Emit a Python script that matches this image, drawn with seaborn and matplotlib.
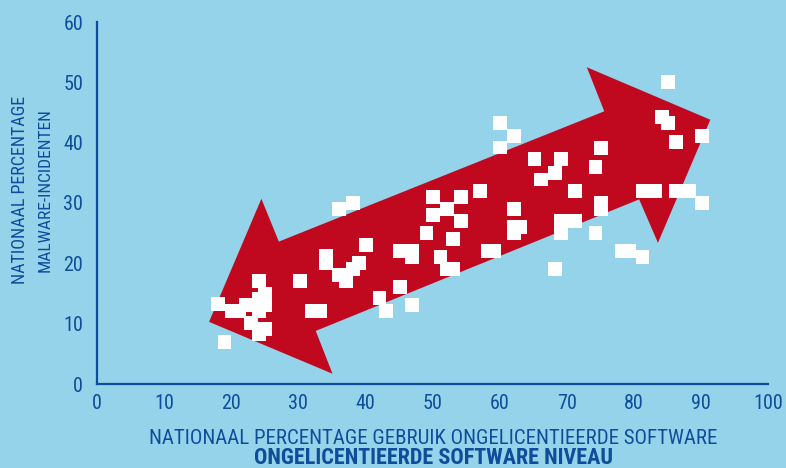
import matplotlib
matplotlib.use("Agg")
import matplotlib.pyplot as plt
from matplotlib.patches import Polygon
import seaborn as sns
import pandas as pd

# data (national unlicensed software rate vs malware rate)
software_pct = [18.0, 19.0, 20.1, 21.1, 22.2, 23.0, 24.1, 24.1, 24.1, 25.1, 25.1, 24.1, 25.1,
                30.2, 32.1, 33.3, 34.1, 34.1, 36.1, 38.1, 36.1, 37.1, 38.1, 39.1, 40.1,
                42.1, 43.1, 45.1, 45.1, 47.0, 47.0, 47.0,
                60.1, 62.1, 60.1, 65.2, 69.2, 68.3, 66.2, 71.3, 57.1, 50.1, 54.2, 52.1,
                50.1, 54.2, 62.1, 49.1, 53.1, 62.1, 63.1, 62.1, 69.2, 69.2, 71.3, 51.2,
                58.2, 59.1, 52.2, 53.1, 68.3,
                85.1, 84.2, 85.1, 86.3, 90.2, 75.1, 74.3, 81.3, 83.2, 86.3, 88.2, 90.2,
                75.1, 75.1, 74.3, 78.3, 79.3, 81.3]
malware_pct = [13.2, 7.0, 12.1, 12.1, 13.1, 10.1, 17.1, 14.1, 12.1, 15.0, 13.1, 8.2, 9.1,
               17.1, 12.1, 12.1, 21.2, 20.0, 29.0, 30.0, 18.0, 17.1, 19.0, 20.0, 23.0,
               14.2, 12.1, 22.0, 16.1, 22.0, 21.0, 13.1,
               43.2, 41.1, 39.2, 37.3, 37.3, 34.9, 33.9, 32.0, 32.0, 31.0, 31.0, 29.0,
               28.0, 27.0, 29.0, 25.0, 24.0, 26.0, 26.0, 25.0, 27.0, 25.0, 27.0, 21.0,
               22.0, 22.0, 19.0, 19.0, 19.0,
               50.0, 44.2, 43.2, 40.1, 41.1, 39.1, 35.9, 32.0, 32.0, 32.0, 32.0, 30.0,
               30.0, 29.0, 25.0, 22.0, 22.0, 21.0]

x_ticks = list(range(0, 101, 10))
y_ticks = list(range(0, 61, 10))

BG = "#94d3e9"
RED = "#c0081f"
NAVY = "#0f4c9a"

df = pd.DataFrame({"software": software_pct, "malware": malware_pct})

sns.set_style("white", {"axes.facecolor": BG, "figure.facecolor": BG})
plt.rcParams["font.family"] = ["Roboto Condensed", "Lato", "DejaVu Sans"]

fig = plt.figure(figsize=(7.86, 4.68), dpi=100)
ax = fig.add_axes([97 / 786, 1 - 384 / 468, 671 / 786, 362 / 468])

# decorative double arrow behind the points (data coordinates)
arrow = Polygon([(16.7, 10.3), (24.5, 30.7), (27.1, 23.6), (75.6, 45.2), (73.0, 52.5),
                 (91.4, 43.8), (83.6, 23.4), (80.8, 30.6), (32.6, 8.8), (35.1, 1.7)],
                closed=True, facecolor=RED, edgecolor="none", zorder=1)
ax.add_patch(arrow)

sns.scatterplot(data=df, x="software", y="malware", marker="s", s=100,
                color="white", edgecolor="none", linewidth=0, zorder=3, ax=ax)

ax.set_xlim(0, 100)
ax.set_ylim(0, 60)
ax.set_xticks(x_ticks)
ax.set_yticks(y_ticks)
ax.tick_params(length=0, labelsize=14.5, colors=NAVY)
ax.tick_params(axis="x", pad=7)
ax.tick_params(axis="y", pad=10)
ax.set_xlabel("")
ax.set_ylabel("")

for side in ["top", "right"]:
    ax.spines[side].set_visible(False)
for side in ["left", "bottom"]:
    ax.spines[side].set_color(NAVY)
    ax.spines[side].set_linewidth(1.6)

# labels; font size is fitted so each line is as long as in the reference
labels = [
    ((20, 190), "NATIONAAL PERCENTAGE", 90, "normal", 190, "center"),
    ((45, 190), "MALWARE-INCIDENTEN", 90, "normal", 165, "center"),
    ((433, 444), "NATIONAAL PERCENTAGE GEBRUIK ONGELICENTIEERDE SOFTWARE", 0, "normal", 570, "baseline"),
    ((433, 464), "ONGELICENTIEERDE SOFTWARE NIVEAU", 0, "bold", 360, "baseline"),
]
renderer = fig.canvas.get_renderer()
for (px, py), txt, rot, weight, target, va in labels:
    t = fig.text(px / 786, 1 - py / 468, txt, rotation=rot, ha="center", va=va,
                 fontsize=14, color=NAVY, fontweight=weight)
    bb = t.get_window_extent(renderer)
    size = bb.height if rot == 90 else bb.width
    t.set_fontsize(14 * target / size)

fig.savefig("out.png", dpi=100, facecolor=BG)
